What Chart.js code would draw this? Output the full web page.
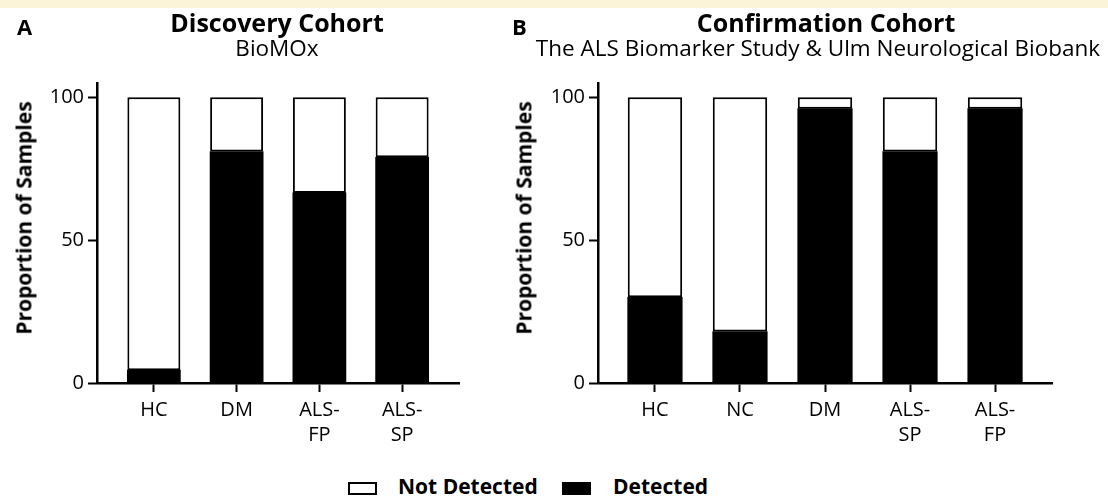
<!DOCTYPE html>
<html>
<head>
<meta charset="utf-8">
<script src="https://cdn.jsdelivr.net/npm/chart.js@4"></script>
<style>
  body { margin: 0; background: #fff; font-family: 'Open Sans', sans-serif; color: #000; }
  #wrap { position: relative; width: 1108px; height: 500px; overflow: hidden; }
  .band { position: absolute; left: 0; top: 0; width: 1108px; height: 8px; background: #fcf4d9; }
  canvas { position: absolute; top: 0; }
  .txt { position: absolute; white-space: nowrap; line-height: 1; }
  .center { transform: translateX(-50%); }
  .ytitle { font-weight: 700; font-size: 21px; transform: translate(-50%, -50%) rotate(-90deg); }
  .letter { font-weight: 700; font-size: 22px; }
  .title { font-weight: 700; font-size: 25px; }
  .sub { font-size: 22.5px; }
  .legend-box { position: absolute; box-sizing: border-box; border: 2px solid #000; }
  .legend-text { font-weight: 700; font-size: 21px; }
</style>
</head>
<body>
<div id="wrap">
  <div class="band"></div>
  <canvas id="chartA" width="554" height="460" style="left:0"></canvas>
  <canvas id="chartB" width="608" height="460" style="left:500px"></canvas>

  <div class="txt letter" style="left:17px;top:15px">A</div>
  <div class="txt title center" style="left:277px;top:10px">Discovery Cohort</div>
  <div class="txt sub center" style="left:277px;top:37px">BioMOx</div>

  <div class="txt letter" style="left:512px;top:15px">B</div>
  <div class="txt title center" style="left:826px;top:10px">Confirmation Cohort</div>
  <div class="txt sub center" style="left:818px;top:37px">The ALS Biomarker Study &amp; Ulm Neurological Biobank</div>

  <div id="ytitles"></div>
  <div id="legend"></div>
</div>

<script>
// --- Dados ---
const categoriesA = ['HC', 'DM', 'ALS-FP', 'ALS-SP'];
const tickLabelsA = ['HC', 'DM', ['ALS-', 'FP'], ['ALS-', 'SP']];
const detectedA = [4.5, 81, 66.5, 79];
const notDetectedA = [95.5, 19, 33.5, 21];

const categoriesB = ['HC', 'NC', 'DM', 'ALS-SP', 'ALS-FP'];
const tickLabelsB = ['HC', 'NC', 'DM', ['ALS-', 'SP'], ['ALS-', 'FP']];
const detectedB = [30, 18, 96, 81, 96];
const notDetectedB = [70, 82, 4, 19, 4];

const yTicks = [0, 50, 100];
const yTitle = 'Proportion of Samples';
const legendLabels = ['Not Detected', 'Detected'];
const legendColors = ['#fff', '#000'];

Chart.defaults.font.family = "'Open Sans', sans-serif";
Chart.defaults.color = '#000';

function makeChart(canvasId, cats, tickLabels, detected, notDetected, layoutOpts) {
    const ctx = document.getElementById(canvasId).getContext('2d');
    const axisGrid = {
        display: true,
        drawOnChartArea: false,
        drawTicks: true,
        tickLength: 9,
        tickWidth: 2,
        tickColor: '#000',
        offset: false
    };
    const axisBorder = { display: true, color: '#000', width: 2.5 };

    return new Chart(ctx, {
        type: 'bar',
        data: {
            datasets: [
                {
                    label: 'Detected',
                    data: detected.map((v, i) => ({ x: i + 1, y: v })),
                    backgroundColor: '#000',
                    borderColor: '#000',
                    borderWidth: 0,
                    inflateAmount: 0.4,
                    borderSkipped: false
                },
                {
                    label: 'Not Detected',
                    data: notDetected.map((v, i) => ({ x: i + 1, y: v })),
                    backgroundColor: '#fff',
                    borderColor: '#000',
                    borderWidth: 2,
                    inflateAmount: 0,
                    borderSkipped: false
                }
            ]
        },
        options: {
            responsive: false,
            animation: false,
            devicePixelRatio: 1,
            barPercentage: 0.64,
            categoryPercentage: 1,
            layout: { padding: { top: 83, right: layoutOpts.padRight, bottom: 0, left: 0 } },
            plugins: { legend: { display: false }, tooltip: { enabled: false } },
            scales: {
                x: {
                    type: 'linear',
                    min: layoutOpts.xMin,
                    max: layoutOpts.xMax,
                    stacked: true,
                    offset: false,
                    grid: axisGrid,
                    border: axisBorder,
                    afterBuildTicks: s => { s.ticks = cats.map((c, i) => ({ value: i + 1 })); },
                    afterFit: s => { s.height = 77; },
                    ticks: {
                        autoSkip: false,
                        maxRotation: 0,
                        padding: 6,
                        font: { size: 20, lineHeight: 1.25 },
                        callback: v => tickLabels[Math.round(v) - 1]
                    }
                },
                y: {
                    min: 0,
                    max: 105,
                    stacked: true,
                    grid: axisGrid,
                    border: axisBorder,
                    afterBuildTicks: s => { s.ticks = yTicks.map(v => ({ value: v })); },
                    afterFit: s => { s.width = layoutOpts.yWidth; },
                    ticks: { padding: 4, font: { size: 20 } }
                }
            }
        }
    });
}

makeChart('chartA', categoriesA, tickLabelsA, detectedA, notDetectedA,
    { xMin: 0.313, xMax: 4.687, yWidth: 97, padRight: 95 });
makeChart('chartB', categoriesB, tickLabelsB, detectedB, notDetectedB,
    { xMin: 0.33, xMax: 5.67, yWidth: 98, padRight: 56 });

// --- Títulos dos eixos Y (HTML, girados) ---
const ytitles = document.getElementById('ytitles');
[24, 524].forEach(cx => {
    const t = document.createElement('div');
    t.className = 'txt ytitle';
    t.style.cssText = `left:${cx}px;top:218px`;
    t.textContent = yTitle;
    ytitles.appendChild(t);
});

// --- Legenda (HTML) ---
const legend = document.getElementById('legend');
const legendPos = [{ box: 348, text: 398 }, { box: 562, text: 613 }];
legendLabels.forEach((label, i) => {
    const box = document.createElement('div');
    box.className = 'legend-box';
    box.style.cssText = `left:${legendPos[i].box}px;top:482px;width:29px;height:13px;background:${legendColors[i]}`;
    legend.appendChild(box);
    const t = document.createElement('div');
    t.className = 'txt legend-text';
    t.style.cssText = `left:${legendPos[i].text}px;top:476px`;
    t.textContent = label;
    legend.appendChild(t);
});
</script>
</body>
</html>
